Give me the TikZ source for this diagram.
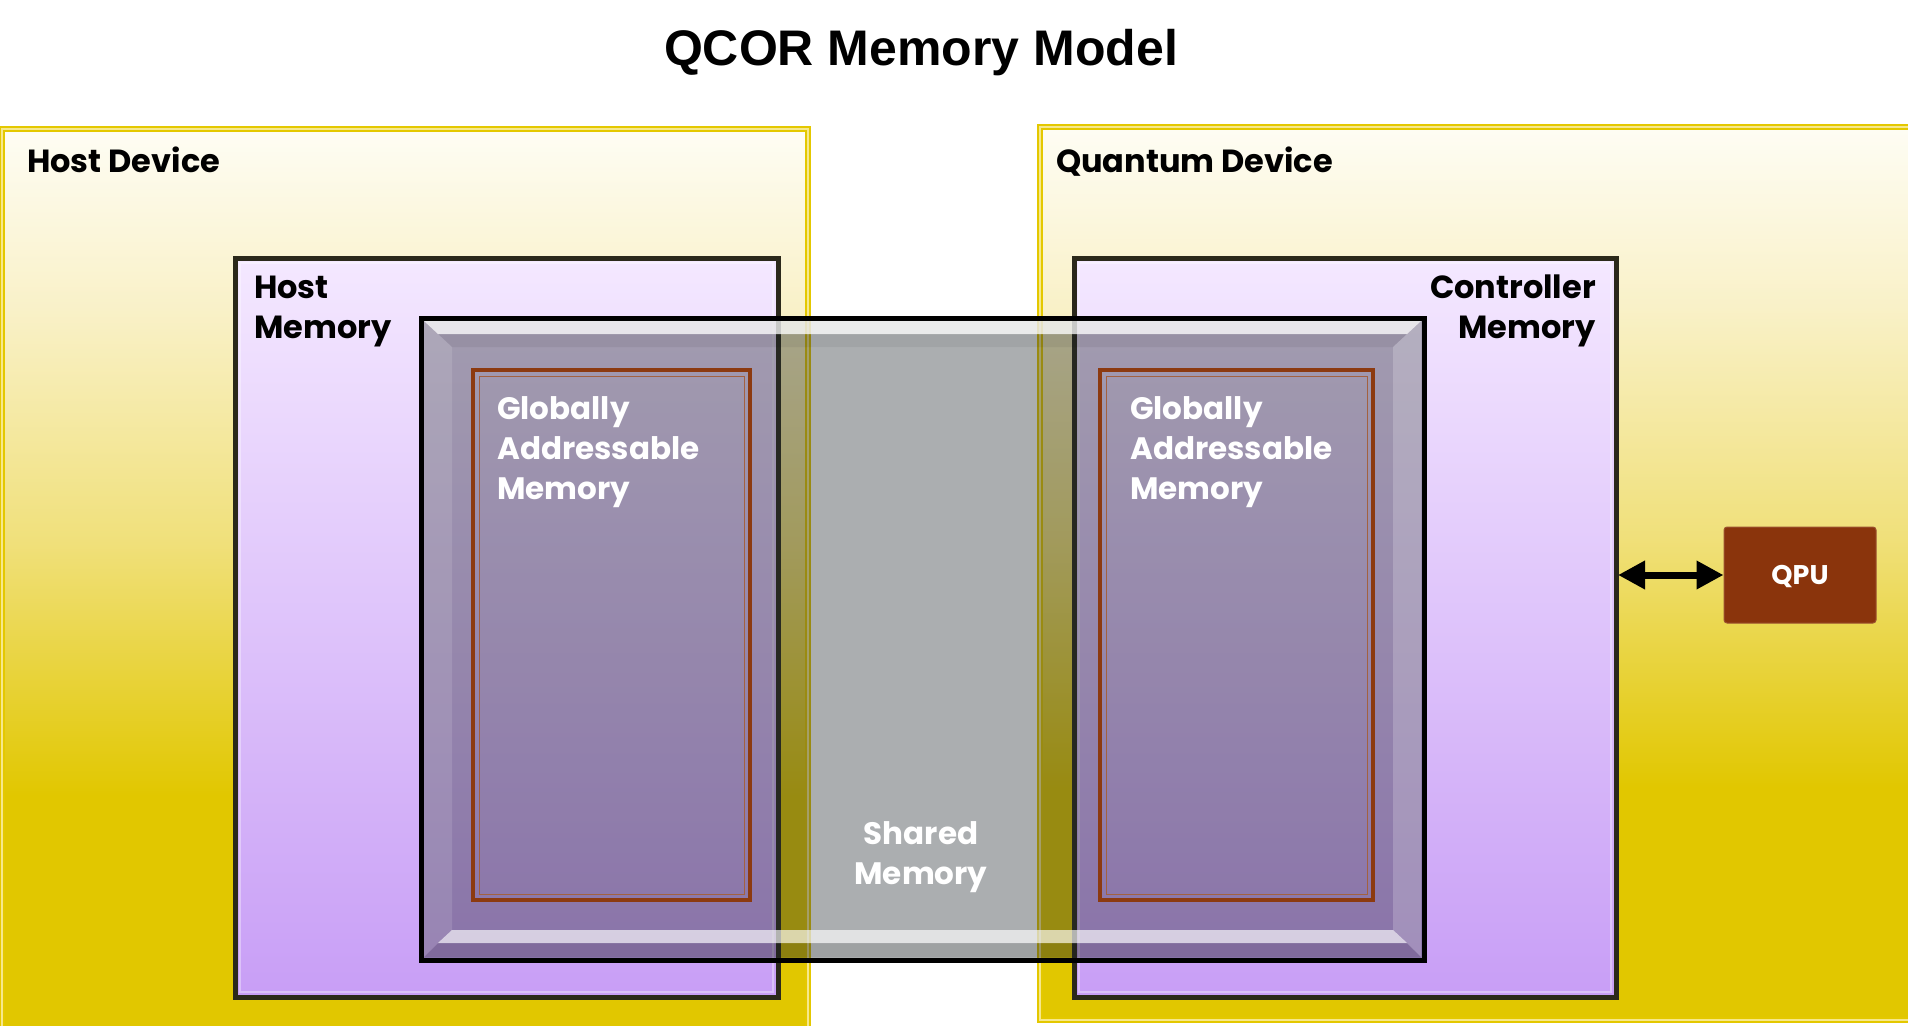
\documentclass[tikz,border=0pt]{standalone}
\usepackage{fontspec}
\setmainfont{Liberation Sans}
\newfontfamily\gothicfont{Poppins}
\usetikzlibrary{arrows.meta}
\usetikzlibrary{calc}
\usetikzlibrary{positioning}

\definecolor{devgold}{RGB}{225,199,0}
\definecolor{devmid}{RGB}{240,224,122}
\definecolor{devpale}{RGB}{249,241,200}
\definecolor{devtop}{RGB}{254,253,244}
\definecolor{devedge}{RGB}{228,200,0}
\definecolor{devline}{RGB}{246,232,140}
\definecolor{memtop}{RGB}{244,232,255}
\definecolor{membot}{RGB}{200,158,246}
\definecolor{memedge}{RGB}{43,41,26}
\definecolor{sharedtint}{RGB}{35,42,47}
\definecolor{gamedge}{RGB}{140,58,16}
\definecolor{qpubrown}{RGB}{138,52,12}

\pgfdeclareverticalshading{devshade}{100bp}{color(0bp)=(devgold); color(25bp)=(devgold); color(38bp)=(devgold); color(52bp)=(devmid); color(65bp)=(devpale); color(75bp)=(devtop); color(100bp)=(devtop)}

\begin{document}
\begin{tikzpicture}[
  x=1pt, y=-1pt,
  > = {Triangle[length=27pt,width=27pt]},
  device/.style = {draw=devedge, line width=2pt, double=devline, double distance=1.2pt, shading=devshade, inner sep=0pt, outer sep=0pt, anchor=north west},
  memory/.style = {draw=memedge, line width=5pt, top color=memtop, bottom color=membot, inner sep=0pt, outer sep=0pt, anchor=north west},
  sharedbox/.style = {draw=black, line width=5pt, fill=sharedtint, fill opacity=.38, inner sep=0pt, outer sep=0pt, anchor=north west},
  globalmem/.style = {draw=gamedge, line width=3.5pt, inner sep=0pt, outer sep=0pt, anchor=north west},
  qpubox/.style = {fill=qpubrown, draw=qpubrown!85!white, line width=1pt, rounded corners=3pt, text=white, text height=19pt, text depth=0pt, font=\gothicfont\bfseries\fontsize{27}{32}\selectfont},
  darklabel/.style = {font=\gothicfont\bfseries\fontsize{32}{40}\selectfont, inner sep=0pt},
  lightlabel/.style = {text=white, font=\gothicfont\bfseries\fontsize{31}{40}\selectfont, inner sep=0pt}
  ]
	\useasboundingbox (0,0) rectangle (1908,1025);
	\clip (0,0) rectangle (1908,1025);

	% devices
	\node[device, minimum width=806pt, minimum height=901pt] (hostdev) at (2,129) {};
	\node[device, minimum width=880pt, minimum height=893pt] (qdev) at (1040,127) {};

	% memories
	\node[memory, minimum width=543pt, minimum height=739pt] (hostmem) at (235,258) {};
	\node[memory, minimum width=542pt, minimum height=739pt] (ctrlmem) at (1074,258) {};
	\foreach \m in {hostmem,ctrlmem}
		\draw[white, opacity=.35, line width=2pt] ($(\m.north west)+(5,5)$) rectangle ($(\m.south east)+(-5,-5)$);

	% shared memory with bevel
	\node[sharedbox, minimum width=1003pt, minimum height=642pt] (shared) at (421,318) {};
	\fill[white, opacity=.75] (424,321) -- (1421,321) -- (1407,334) -- (438,334) -- cycle;
	\fill[black, opacity=.06] (438,334) -- (1407,334) -- (1393,347) -- (452,347) -- cycle;
	\fill[white, opacity=.12] (424,321) -- (452,347) -- (452,930) -- (424,957) -- cycle;
	\fill[white, opacity=.2] (1421,321) -- (1393,347) -- (1393,930) -- (1421,957) -- cycle;
	\fill[white, opacity=.65] (452,930) -- (1393,930) -- (1407,943) -- (438,943) -- cycle;
	\fill[black, opacity=.08] (438,943) -- (1407,943) -- (1421,957) -- (424,957) -- cycle;

	\node[globalmem, minimum width=277pt, minimum height=530pt] (gaml) at (473,370) {};
	\node[globalmem, minimum width=273pt, minimum height=530pt] (gamr) at (1100,370) {};
	\foreach \g in {gaml,gamr}
		\draw[gamedge!80!white, line width=1pt] ($(\g.north west)+(6,6)$) rectangle ($(\g.south east)+(-6,-6)$);

	% labels
	\node[anchor=base, font=\bfseries\fontsize{50}{60}\selectfont] (title) at (921,66) {QCOR Memory Model};
	\node[darklabel, anchor=north west] (hostdevlabel) at (27,147) {Host Device};
	\node[darklabel, anchor=north west] (qdevlabel) at (1056,147) {Quantum Device};
	\node[darklabel, anchor=north west, align=left] (hostmemlabel) at (254,276) {Host\\Memory};
	\node[darklabel, anchor=north east, align=right] (ctrlmemlabel) at (1596,275) {Controller\\Memory};
	\node[lightlabel, anchor=north west, align=left] (gamllabel) at (497,396) {Globally\\Addressable\\Memory};
	\node[lightlabel, anchor=north west, align=left] (gamrlabel) at (1130,396) {Globally\\Addressable\\Memory};
	\node[lightlabel, anchor=north, align=center] (sharedlabel) at (921,821) {Shared\\Memory};

	% qpu link
	\node[qpubox, minimum width=152pt, minimum height=96pt] (qpu) at (1800,575) {QPU};
	\draw[<->, line width=7pt, shorten <=2pt] (ctrlmem.east |- qpu.west) -- (qpu.west);

\end{tikzpicture}
\end{document}
